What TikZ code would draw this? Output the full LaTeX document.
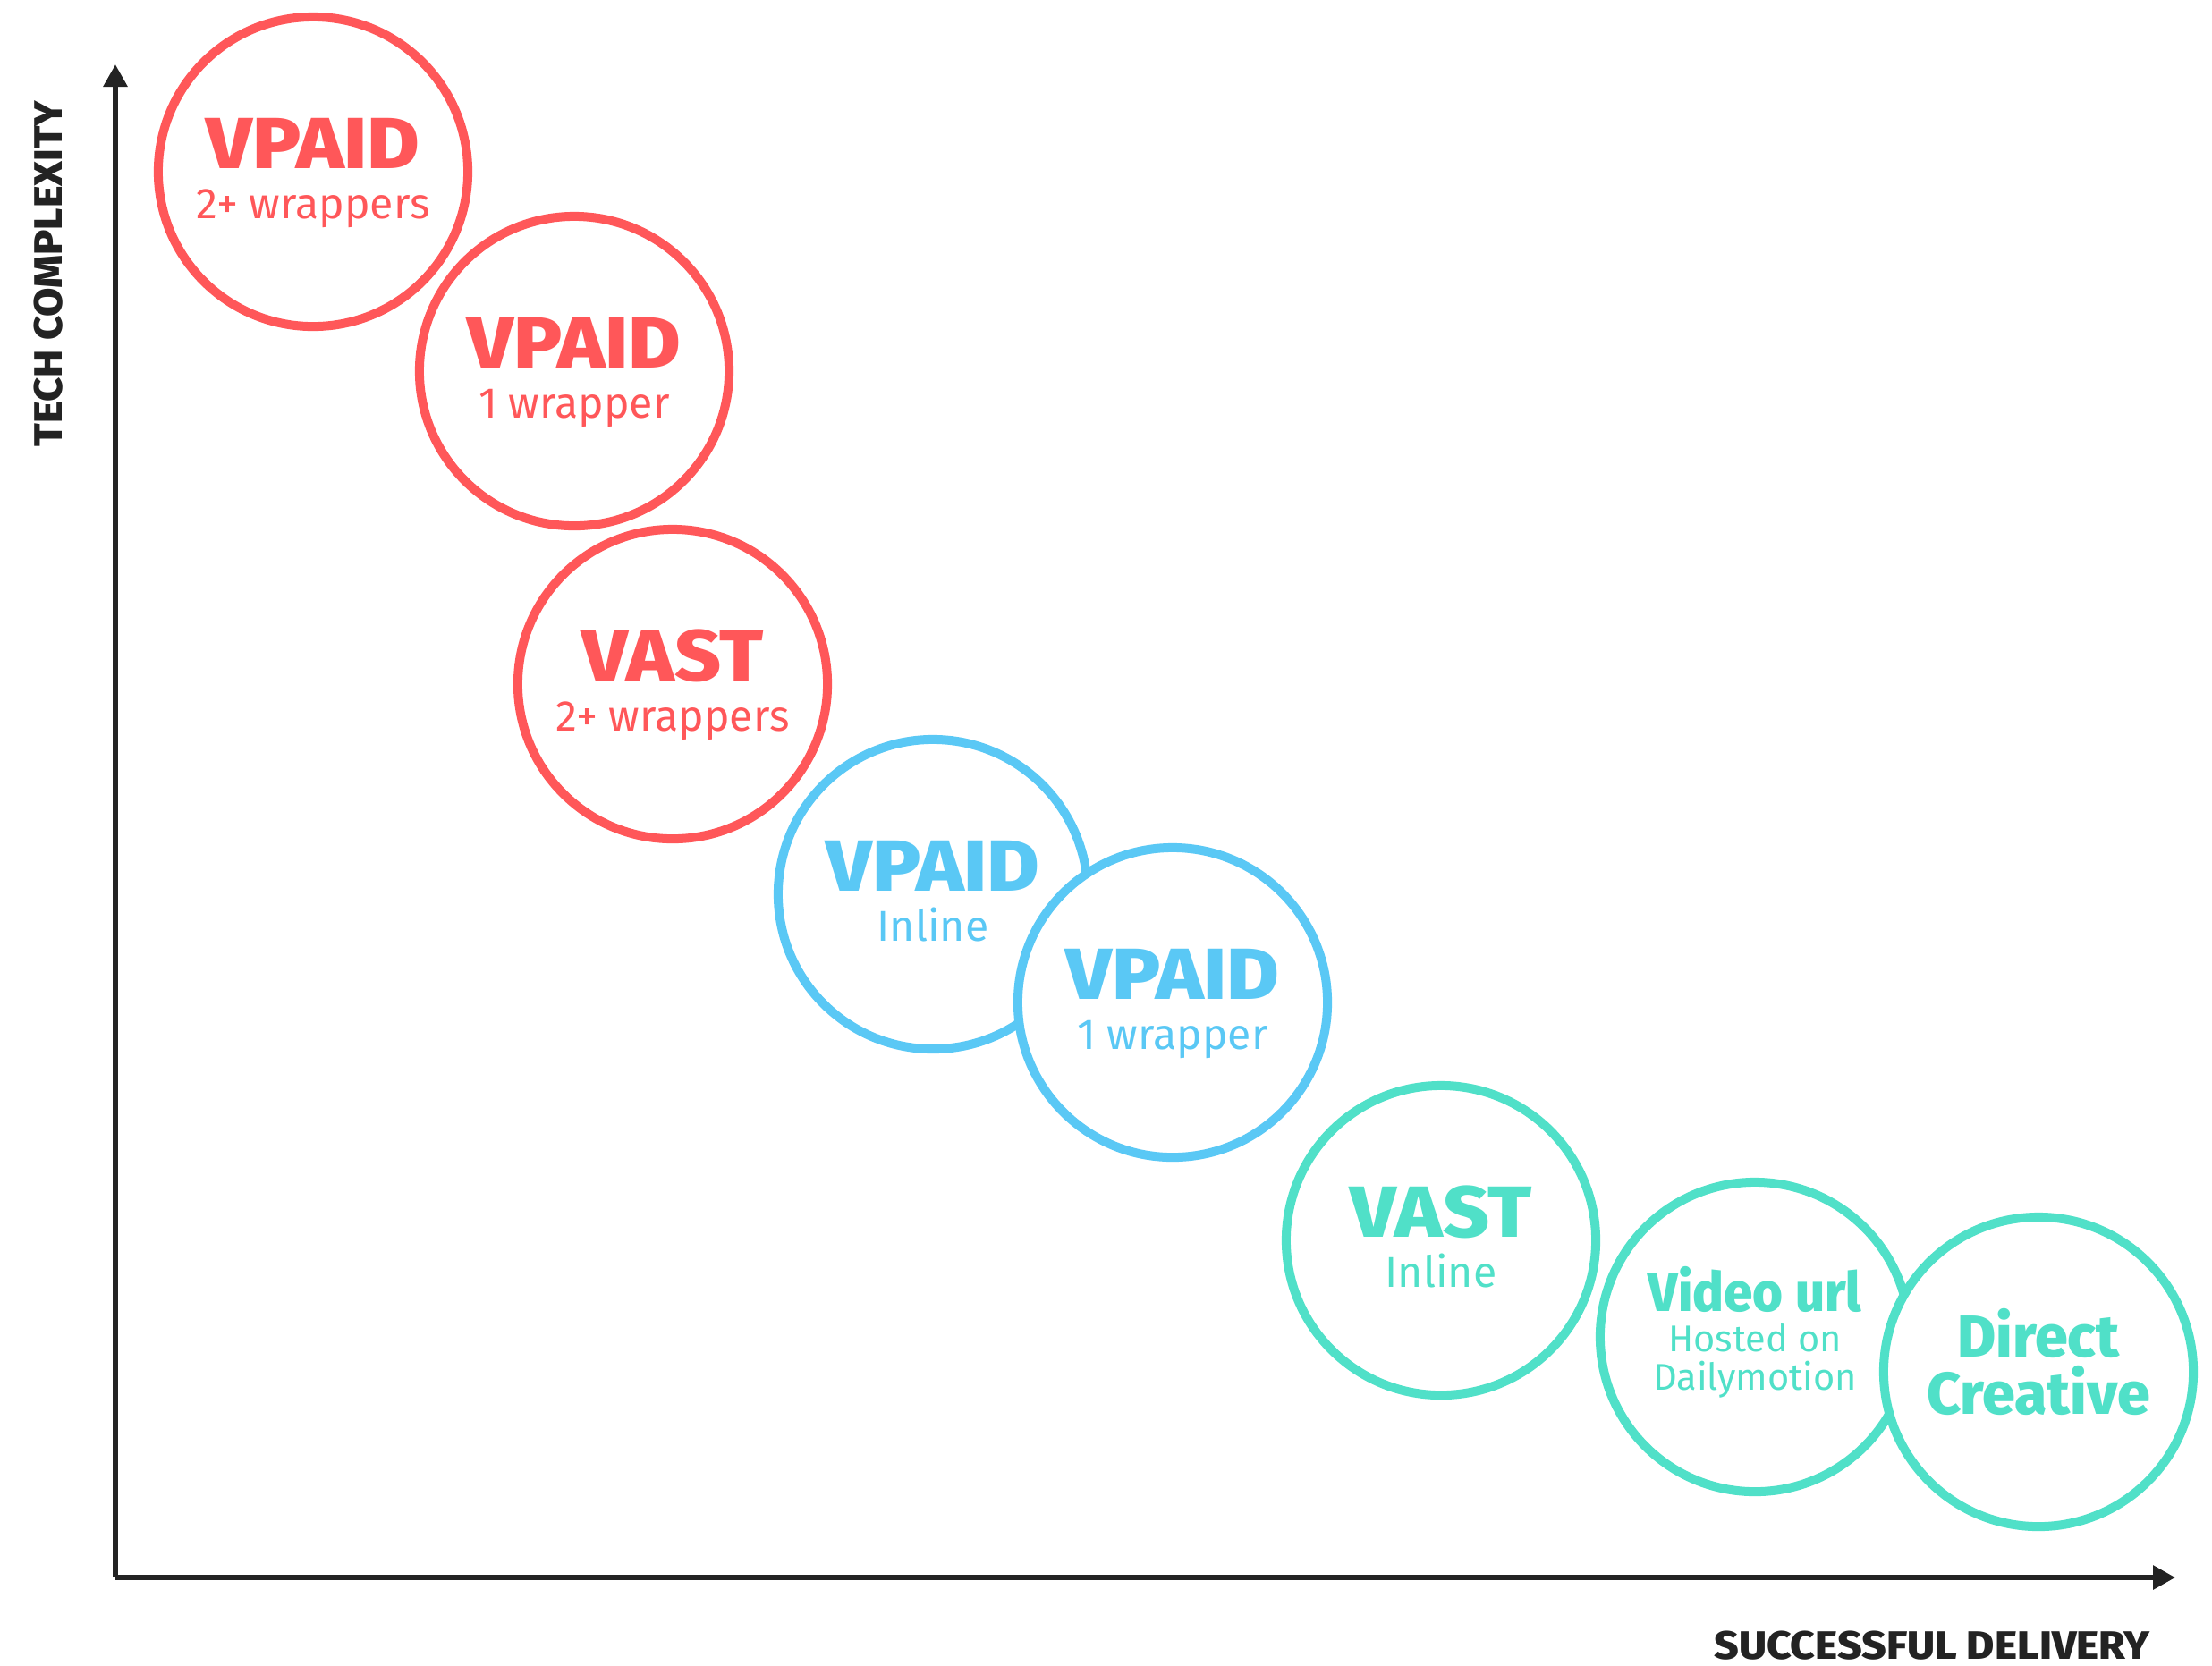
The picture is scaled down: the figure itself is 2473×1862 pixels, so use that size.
\documentclass[tikz,border=0pt]{standalone}
\usepackage{fontspec}
\setmainfont{Fira Sans}
\IfFontExistsTF{Fira Sans ExtraBold}
  {\newfontfamily\heavy{Fira Sans ExtraBold}[BoldFont={Fira Sans ExtraBold}]}
  {\newfontfamily\heavy{Fira Sans}[BoldFeatures={FakeBold=1.2}]}
\newcommand\widetxt[1]{\scalebox{1.11}[1]{#1}}
\usetikzlibrary{arrows.meta}
\definecolor{cred}{HTML}{FF5759}
\definecolor{cblue}{HTML}{5AC8F5}
\definecolor{cteal}{HTML}{50E0C8}
\definecolor{cdark}{HTML}{232323}
\tikzset{
  bubble/.style={circle, draw=#1, fill=white, line width=0.1cm, minimum size=3.46cm, inner sep=0pt},
  maintxt/.style={text=#1, anchor=base, inner sep=0pt, font=\fontsize{23}{23}\selectfont\heavy\bfseries},
  subtxt/.style={text=#1, anchor=base, inner sep=0pt, font=\fontsize{13.7}{13.7}\selectfont},
  midtxt/.style={text=#1, anchor=base, inner sep=0pt, font=\fontsize{17.4}{17.4}\selectfont\heavy\bfseries},
  smalltxt/.style={text=#1, anchor=base, inner sep=0pt, font=\fontsize{11.8}{11.8}\selectfont},
  dctxt/.style={text=#1, anchor=base, inner sep=0pt, font=\fontsize{18.8}{18.8}\selectfont\heavy\bfseries},
  axislabel/.style={text=cdark, inner sep=0pt, font=\fontsize{12.6}{12.6}\selectfont\heavy\bfseries},
  axisline/.style={draw=cdark, line width=0.06cm, -{Triangle[length=0.25cm, width=0.26cm]}},
}
\begin{document}
\begin{tikzpicture}[x=0.01cm, y=-0.01cm]
\useasboundingbox (0,0) rectangle (2473,1862);

% axes
\coordinate (orig) at (129,1764);
\coordinate (ytop) at (129,72);
\coordinate (xend) at (2432,1764);
\draw[axisline] (orig) -- (ytop);
\draw[axisline] (orig) -- (xend);
\node[axislabel, rotate=90, anchor=base] (ylab) at (69,306) {\scalebox{1.06}[1]{TECH COMPLEXITY}};
\node[axislabel, anchor=base] (xlab) at (2160,1855) {\scalebox{1.08}[1]{SUCCESSFUL DELIVERY}};

% bubbles
\node[bubble=cred] (b1) at (350,192) {};
\node[maintxt=cred] (b1a) at (350,188) {\widetxt{VPAID}};
\node[subtxt=cred] (b1b) at (350,244) {2+ wrappers};

\node[bubble=cred] (b2) at (642,415) {};
\node[maintxt=cred] (b2a) at (642,411) {\widetxt{VPAID}};
\node[subtxt=cred] (b2b) at (642,467) {1 wrapper};

\node[bubble=cred] (b3) at (752,765) {};
\node[maintxt=cred] (b3a) at (752,761) {\widetxt{VAST}};
\node[subtxt=cred] (b3b) at (752,817) {2+ wrappers};

\node[bubble=cblue] (b4) at (1043,1000) {};
\node[maintxt=cblue] (b4a) at (1043,996) {\widetxt{VPAID}};
\node[subtxt=cblue] (b4b) at (1043,1052) {Inline};

\node[bubble=cblue] (b5) at (1311,1121) {};
\node[maintxt=cblue] (b5a) at (1311,1117) {\widetxt{VPAID}};
\node[subtxt=cblue] (b5b) at (1311,1173) {1 wrapper};

\node[bubble=cteal] (b6) at (1611,1387) {};
\node[maintxt=cteal] (b6a) at (1611,1383) {\widetxt{VAST}};
\node[subtxt=cteal] (b6b) at (1611,1439) {Inline};

\node[bubble=cteal] (b7) at (1962,1495) {};
\node[midtxt=cteal] (b7a) at (1962,1466) {\scalebox{0.95}[1]{Video url}};
\node[smalltxt=cteal] (b7b) at (1962,1511) {Hosted on};
\node[smalltxt=cteal] (b7c) at (1962,1554) {Dailymotion};

\node[bubble=cteal] (b8) at (2279,1534) {};
\node[dctxt=cteal] (b8a) at (2279,1517) {Direct};
\node[dctxt=cteal] (b8b) at (2279,1581) {Creative};
\end{tikzpicture}
\end{document}
